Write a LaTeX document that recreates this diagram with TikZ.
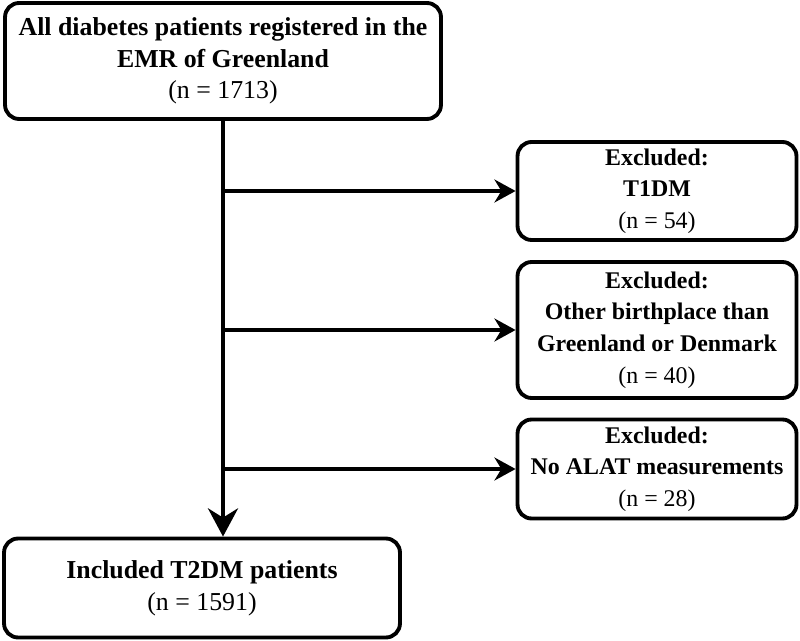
\documentclass[tikz,border=0pt]{standalone}
\usepackage{fontspec}
\setmainfont{Liberation Serif}
\usetikzlibrary{arrows.meta}
\usetikzlibrary{positioning}

\begin{document}
\begin{tikzpicture}
			[
			x=0.02cm, y=-0.02cm,
			font=\fontsize{14.7}{18}\selectfont,
			]
			
			% Two box styles: main flow and excluded
			\tikzstyle{flow box}=[draw,line width=2.2pt,rounded corners=8pt,align=center,inner sep=0pt];
			\tikzstyle{excl box}=[flow box,minimum width=5.58cm,font=\fontsize{13.6}{18}\selectfont];
			% Two arrow styles: main and branch
			\tikzstyle{main arrow}=[line width=2.8pt,-{Stealth[length=16pt,width=17pt]}];
			\tikzstyle{branch arrow}=[line width=2pt,-{Stealth[length=12pt,width=13pt]}];
			
			\useasboundingbox (0,0) rectangle (800,641);
			
			% Main flow
			\node(all)[flow box,minimum width=8.72cm,minimum height=2.32cm]at(223,61)
				{\textbf{All diabetes patients registered in the}\\\textbf{EMR of Greenland}\\(n = 1713)};
			\node(incl)[flow box,minimum width=7.92cm,minimum height=1.98cm]at(202,588)
				{\textbf{Included T2DM patients}\\(n = 1591)};
			
			% Exclusions
			\node(ex1)[excl box,minimum height=1.96cm]at(657,191)
				{\textbf{Excluded:}\\\textbf{T1DM}\\(n = 54)};
			\node(ex2)[excl box,minimum height=2.72cm]at(657,330)
				{\textbf{Excluded:}\\\textbf{Other birthplace than}\\\textbf{Greenland or Denmark}\\(n = 40)};
			\node(ex3)[excl box,minimum height=1.98cm]at(657,469)
				{\textbf{Excluded:}\\\textbf{No ALAT measurements}\\(n = 28)};
			
			% Arrows
			\draw[main arrow](all.south)to(all.south|-incl.north);
			\foreach \x in {1, 2, 3} \draw[branch arrow](all.south|-ex\x.west)to(ex\x.west);
			\end{tikzpicture}
\end{document}
